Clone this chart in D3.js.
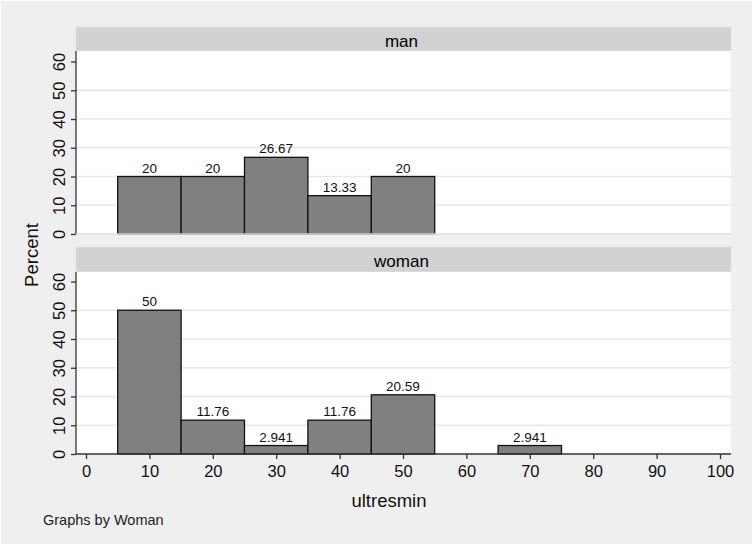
<!DOCTYPE html>
<html><head><meta charset="utf-8">
<script src="https://cdn.jsdelivr.net/npm/d3@7"></script>
<style>body{margin:0;background:#fff}svg{display:block}text{font-family:"Liberation Sans",Arial,sans-serif}</style>
</head><body><svg id="c" width="753" height="545"></svg>
<script>
const binCenters = [10, 20, 30, 40, 50, 60, 70];
const manPercent = [20, 20, 26.67, 13.33, 20, 0, 0];
const womanPercent = [50, 11.76, 2.941, 11.76, 20.59, 0, 2.941];
const manLabels = ["20", "20", "26.67", "13.33", "20", "", ""];
const womanLabels = ["50", "11.76", "2.941", "11.76", "20.59", "", "2.941"];
const xTicks = [0, 10, 20, 30, 40, 50, 60, 70, 80, 90, 100];
const yTicks = [0, 10, 20, 30, 40, 50, 60];
const gridTicks = [10, 20, 30, 40, 50];
const binWidth = 10;

const svg = d3.select("#c");
svg.append("rect").attr("x", 1).attr("y", 1).attr("width", 751).attr("height", 543).attr("fill", "#efefef");

const x = d3.scaleLinear().domain([0, 100]).range([86, 720]);
const left = 76, right = 731;

const panels = [
  {name: "man", vals: manPercent, labels: manLabels, stripTop: 27, top: 51, bottom: 234, xaxis: false},
  {name: "woman", vals: womanPercent, labels: womanLabels, stripTop: 247, top: 272, bottom: 454, xaxis: true}
];

panels.forEach(p => {
  const y = d3.scaleLinear().domain([0, 60]).range([p.bottom, p.bottom - 172.5]);
  const g = svg.append("g");
  g.append("rect").attr("x", left).attr("y", p.stripTop).attr("width", right - left).attr("height", p.top - p.stripTop)
    .attr("fill", "#d1d1d1").attr("stroke", "#dde3e8").attr("stroke-width", 1);
  g.append("text").attr("x", (left + right) / 2 - 2).attr("y", p.stripTop + 19.5)
    .attr("text-anchor", "middle").attr("font-size", 17).attr("fill", "#000").text(p.name);
  g.append("rect").attr("x", left).attr("y", p.top).attr("width", right - left).attr("height", p.bottom - p.top).attr("fill", "#fff");
  g.selectAll(".grid").data(gridTicks).join("line")
    .attr("x1", left).attr("x2", right).attr("y1", d => y(d)).attr("y2", d => y(d))
    .attr("stroke", "#e8e8e8").attr("stroke-width", 1.3);
  const data = binCenters.map((c, i) => ({c, v: p.vals[i], l: p.labels[i]})).filter(d => d.v > 0);
  g.selectAll(".bar").data(data).join("rect")
    .attr("x", d => x(d.c - binWidth / 2)).attr("width", d => x(d.c + binWidth / 2) - x(d.c - binWidth / 2))
    .attr("y", d => y(d.v)).attr("height", d => y(0) - y(d.v))
    .attr("fill", "#808080").attr("stroke", "#111").attr("stroke-width", 1.3);
  g.selectAll(".lab").data(data).join("text")
    .attr("x", d => x(d.c)).attr("y", d => y(d.v) - 4)
    .attr("text-anchor", "middle").attr("font-size", 13.5).attr("fill", "#111").text(d => d.l);
  const ya = g.append("g").attr("transform", `translate(${left},0)`)
    .call(d3.axisLeft(y).tickValues(yTicks).tickSize(5).tickSizeOuter(0));
  ya.attr("font-size", null);
  ya.select(".domain").attr("d", `M0,${p.top}V${p.bottom}`).attr("stroke", "#333").attr("stroke-width", 1.3);
  ya.selectAll(".tick line").attr("stroke", "#333").attr("stroke-width", 1.3);
  ya.selectAll(".tick text").style("font-size", "16.5px").attr("fill", "#111")
    .attr("font-family", "'Liberation Sans',Arial,sans-serif")
    .attr("text-anchor", "middle").attr("x", -10).attr("y", 0).attr("dy", null)
    .attr("transform", "rotate(-90,-10,0) translate(0,-1)");
  if (p.xaxis) {
    const xa = g.append("g").attr("transform", `translate(0,${p.bottom})`)
      .call(d3.axisBottom(x).tickValues(xTicks).tickSize(5).tickSizeOuter(0).tickPadding(6));
    xa.attr("font-size", null);
    xa.select(".domain").attr("d", `M${left},0H${right}`).attr("stroke", "#333").attr("stroke-width", 1.3);
    xa.selectAll(".tick line").attr("stroke", "#333").attr("stroke-width", 1.3);
    xa.selectAll(".tick text").style("font-size", "16.5px").attr("fill", "#111")
      .attr("font-family", "'Liberation Sans',Arial,sans-serif");
  } else {
    g.append("line").attr("x1", left).attr("x2", right).attr("y1", p.bottom).attr("y2", p.bottom)
      .attr("stroke", "#e0e0e0").attr("stroke-width", 1.3);
  }
});

svg.append("text").attr("transform", "translate(38,255) rotate(-90)").attr("text-anchor", "middle")
  .attr("font-size", 18.5).attr("fill", "#111").text("Percent");
svg.append("text").attr("x", 389).attr("y", 507).attr("text-anchor", "middle")
  .attr("font-size", 18.5).attr("fill", "#111").text("ultresmin");
svg.append("text").attr("x", 43).attr("y", 525).attr("font-size", 14.5).attr("fill", "#222").text("Graphs by Woman");
</script></body></html>
